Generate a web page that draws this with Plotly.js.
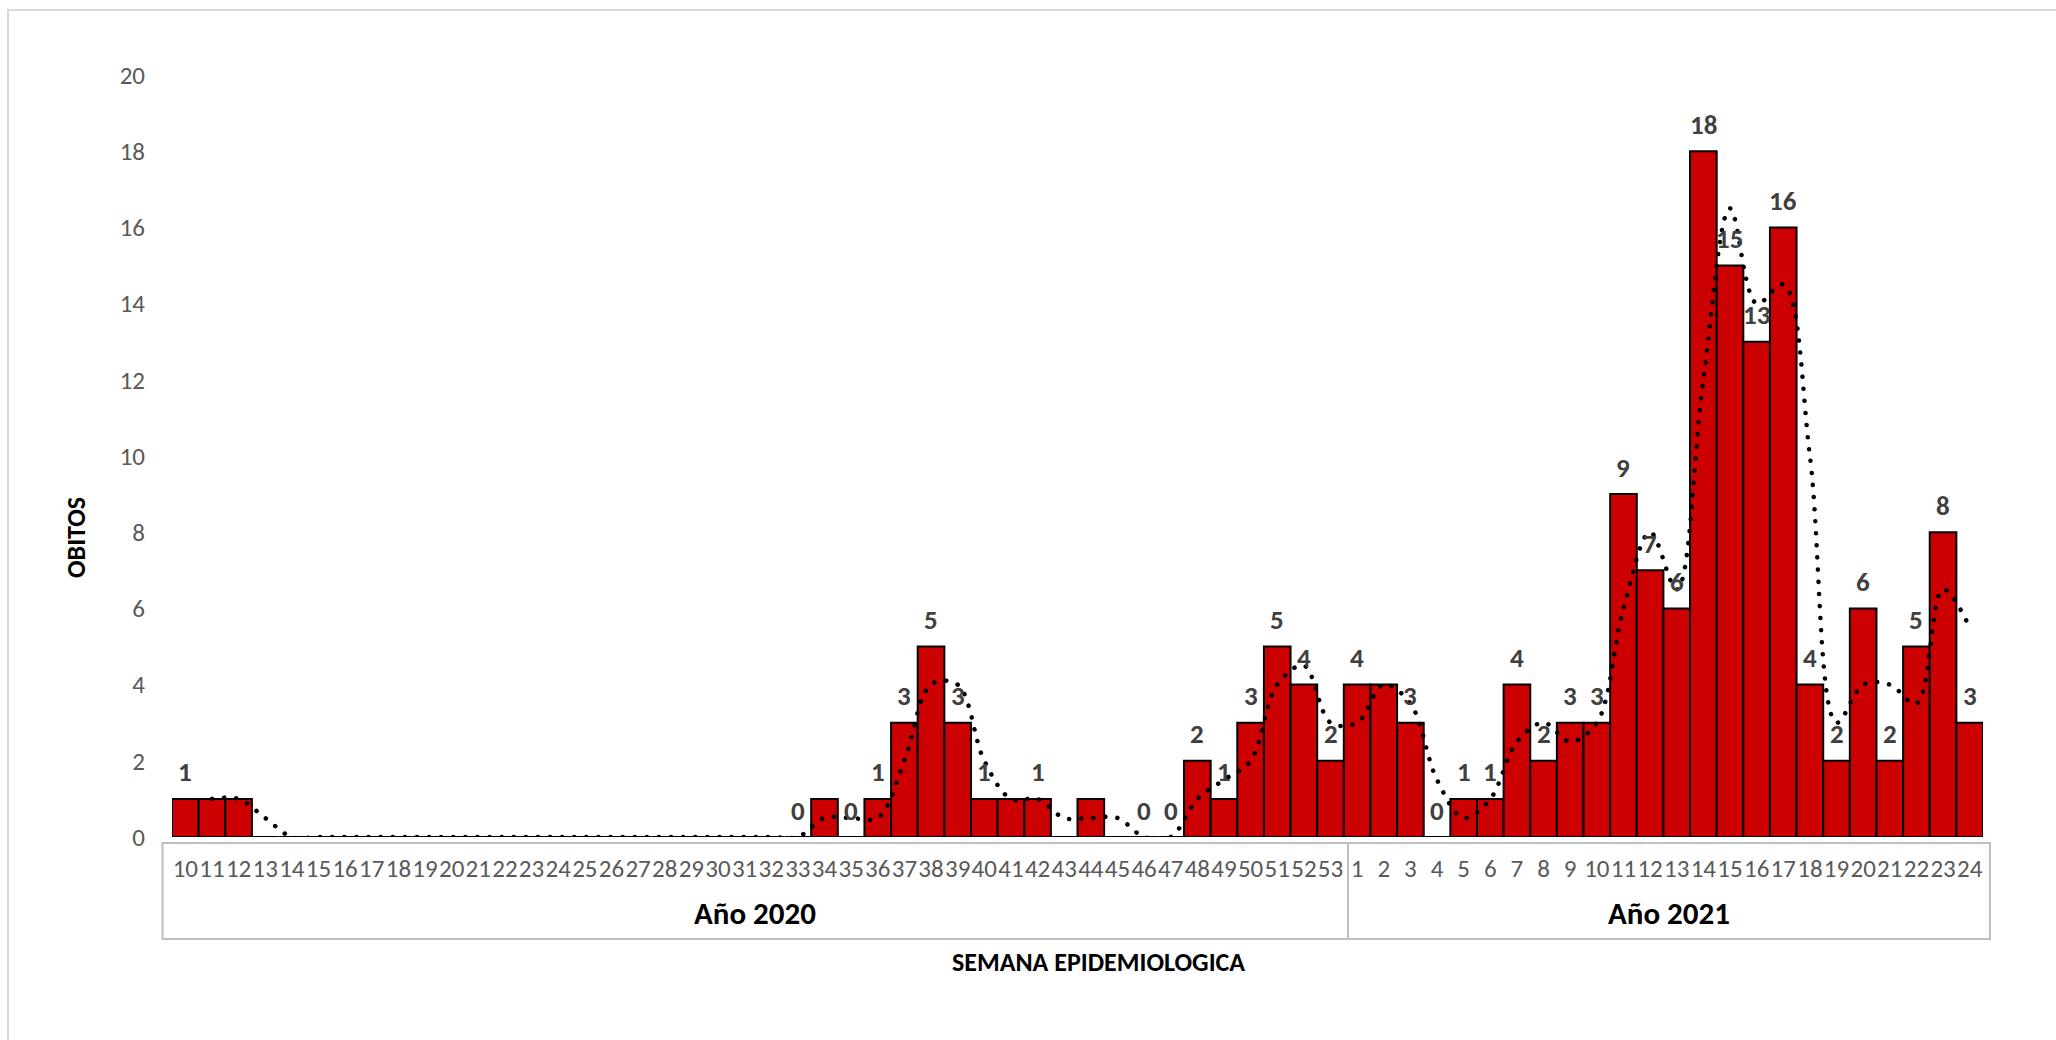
<!DOCTYPE html>
<html>
<head>
<meta charset="utf-8">
<script src="https://cdn.plot.ly/plotly-3.0.1.min.js"></script>
<style>
  html, body { margin: 0; padding: 0; background: #fff; }
  #chart { width: 2056px; height: 1040px; }
  .scatterlayer .js-line { stroke-linecap: round; }
</style>
</head>
<body>
<div id="chart"></div>
<script>
// ---- Data ----
const weeks2020 = [10,11,12,13,14,15,16,17,18,19,20,21,22,23,24,25,26,27,28,29,30,31,32,33,34,35,36,37,38,39,40,41,42,43,44,45,46,47,48,49,50,51,52,53];
const deaths2020 = [1,1,1,0,0,0,0,0,0,0,0,0,0,0,0,0,0,0,0,0,0,0,0,0,1,0,1,3,5,3,1,1,1,0,1,0,0,0,2,1,3,5,4,2];
const labels2020 = ['1','','','','','','','','','','','','','','','','','','','','','','','0','','0','1','3','5','3','1','','1','','','','0','0','2','1','3','5','4','2'];
const trend2020 = [null,1,1,0.5,0,0,0,0,0,0,0,0,0,0,0,0,0,0,0,0,0,0,0,0,0.5,0.5,0.5,2,4,4,2,1,1,0.5,0.5,0.5,0,0,1,1.5,2,4,4.5,3];

const weeks2021 = [1,2,3,4,5,6,7,8,9,10,11,12,13,14,15,16,17,18,19,20,21,22,23,24];
const deaths2021 = [4,4,3,0,1,1,4,2,3,3,9,7,6,18,15,13,16,4,2,6,2,5,8,3];
const labels2021 = ['4','','3','0','1','1','4','2','3','3','9','7','6','18','15','13','16','4','2','6','2','5','8','3'];
const trend2021 = [3,4,3.5,1.5,0.5,1,2.5,3,2.5,3,6,8,6.5,12,16.5,14,14.5,10,3,4,4,3.5,6.5,5.5];

const yearLabels = ['Año 2020', 'Año 2021'];
const yTicks = [0,2,4,6,8,10,12,14,16,18,20];

// ---- Build ----
const cats = weeks2020.map(w => '2020-' + w).concat(weeks2021.map(w => '2021-' + w));
const weekText = weeks2020.concat(weeks2021).map(String);
const deaths = deaths2020.concat(deaths2021);
const labels = labels2020.concat(labels2021);
const trend = trend2020.concat(trend2021);

const W = 2056, H = 1040, L = 172, R = 73, T = 75, B = 203;
const pw = W - L - R, ph = H - T - B;
const fx = px => (px - L) / pw;
const fy = py => (H - B - py) / ph;

const FONT = 'Carlito, Calibri, Lato, "Open Sans", sans-serif';

const bars = {
  type: 'bar', x: cats, y: deaths,
  marker: { color: '#CC0000', line: { color: '#000000', width: 2 } },
  hoverinfo: 'skip'
};
const line = {
  type: 'scatter', mode: 'lines', x: cats, y: trend,
  line: { color: '#000000', width: 4.5, dash: '0.1px,12px', shape: 'spline', smoothing: 1 },
  hoverinfo: 'skip'
};

const annotations = [];
labels.forEach((t, i) => {
  if (t === '') return;
  annotations.push({
    x: cats[i], y: deaths[i], xref: 'x', yref: 'y', text: t, showarrow: false,
    yshift: 27, yanchor: 'middle', xanchor: 'center',
    font: { family: FONT, size: 27, color: '#404040', weight: 'bold' }
  });
});
annotations.push({ x: fx(755), y: fy(913), xref: 'paper', yref: 'paper', text: '<b>' + yearLabels[0] + '</b>',
  showarrow: false, xanchor: 'center', yanchor: 'middle', font: { family: FONT, size: 31, color: '#000' } });
annotations.push({ x: fx(1669), y: fy(913), xref: 'paper', yref: 'paper', text: '<b>' + yearLabels[1] + '</b>',
  showarrow: false, xanchor: 'center', yanchor: 'middle', font: { family: FONT, size: 31, color: '#000' } });
annotations.push({ x: fx(1098), y: fy(962), xref: 'paper', yref: 'paper', text: '<b>SEMANA EPIDEMIOLOGICA</b>',
  showarrow: false, xanchor: 'center', yanchor: 'middle', font: { family: FONT, size: 26, color: '#000' } });
annotations.push({ x: fx(76), y: fy(538), xref: 'paper', yref: 'paper', text: '<b>OBITOS</b>', textangle: -90,
  showarrow: false, xanchor: 'center', yanchor: 'middle', font: { family: FONT, size: 26, color: '#000' } });

const boxColor = '#BFBFBF';
const shapes = [
  { type: 'rect', xref: 'paper', yref: 'paper', x0: fx(8), x1: fx(2075), y0: fy(10), y1: fy(1060),
    line: { color: '#D9D9D9', width: 2 }, fillcolor: 'rgba(0,0,0,0)', layer: 'below' },
  { type: 'rect', xref: 'paper', yref: 'paper', x0: fx(162.5), x1: fx(1990), y0: fy(843), y1: fy(939),
    line: { color: boxColor, width: 2 }, fillcolor: 'rgba(0,0,0,0)' },
  { type: 'line', xref: 'paper', yref: 'paper', x0: fx(1348), x1: fx(1348), y0: fy(843), y1: fy(939),
    line: { color: boxColor, width: 2 } }
];

const layout = {
  width: W, height: H,
  margin: { l: L, r: R, t: T, b: B, pad: 0 },
  paper_bgcolor: '#ffffff', plot_bgcolor: '#ffffff',
  showlegend: false, bargap: 0,
  font: { family: FONT, color: '#595959' },
  xaxis: {
    type: 'category', range: [-0.5, cats.length - 0.5], tickvals: cats, ticktext: weekText,
    tickfont: { family: FONT, size: 25, color: '#595959' }, tickangle: 0,
    ticks: 'outside', ticklen: 9, tickcolor: 'rgba(0,0,0,0)',
    showgrid: false, showline: false, zeroline: false, fixedrange: true
  },
  yaxis: {
    range: [0, 20], tickvals: yTicks, ticktext: yTicks.map(String),
    tickfont: { family: FONT, size: 25, color: '#595959' },
    ticks: 'outside', ticklen: 21, tickcolor: 'rgba(0,0,0,0)',
    showgrid: false, showline: false, zeroline: false, fixedrange: true
  },
  annotations: annotations,
  shapes: shapes
};

Plotly.newPlot('chart', [bars, line], layout, { displayModeBar: false, staticPlot: true });
</script>
</body>
</html>
